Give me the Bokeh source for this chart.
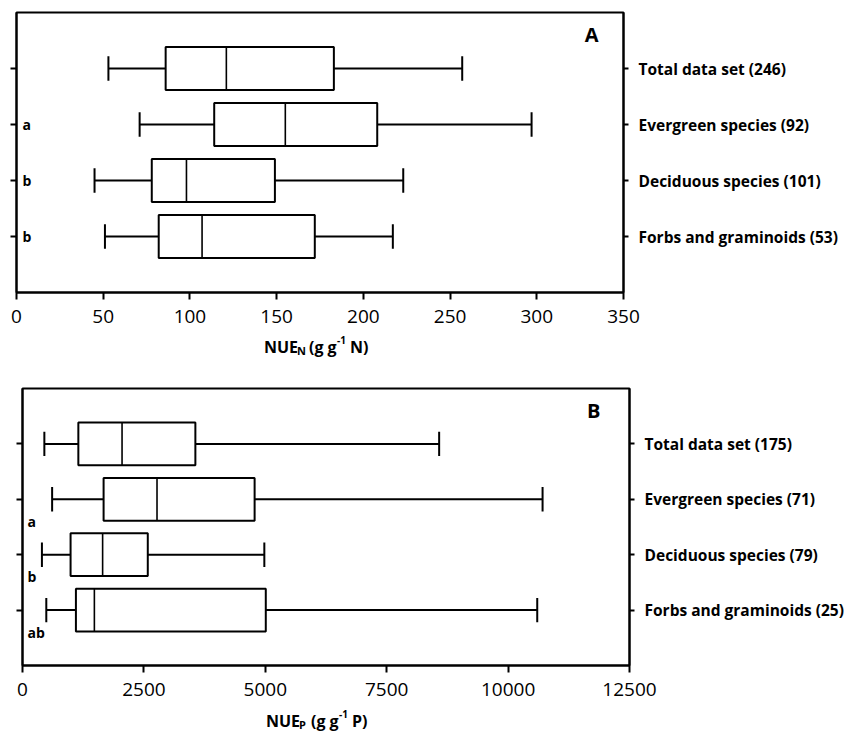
from bokeh.plotting import figure
from bokeh.models import Range1d, LinearAxis, FixedTicker, Label, ColumnDataSource
from bokeh.layouts import column
from bokeh.embed import file_html
from bokeh.resources import INLINE
from bokeh.core.properties import value

# ---------------- data ----------------
cats_n = ["Total data set (246)", "Evergreen species (92)", "Deciduous species (101)", "Forbs and graminoids (53)"]
n_low = [53, 71, 45, 51]
n_q1 = [86, 114, 78, 82]
n_med = [121, 155, 98, 107]
n_q3 = [183, 208, 149, 172]
n_high = [257, 297, 223, 217]
n_letters = ["", "a", "b", "b"]
n_ticks = [0, 50, 100, 150, 200, 250, 300, 350]

cats_p = ["Total data set (175)", "Evergreen species (71)", "Deciduous species (79)", "Forbs and graminoids (25)"]
p_low = [450, 610, 400, 490]
p_q1 = [1150, 1670, 990, 1100]
p_med = [2050, 2770, 1650, 1480]
p_q3 = [3560, 4780, 2580, 5010]
p_high = [8580, 10710, 4980, 10600]
p_letters = ["", "a", "b", "ab"]
p_ticks = [0, 2500, 5000, 7500, 10000, 12500]

FONT = "Open Sans"
W = 846
BOX_H = 0.77
CAP_H = 0.44


def panel(cats, low, q1, med, q3, high, letters, ticks, panel_tag,
          height, shift_left, mb_left, mb_right, mb_top, mb_bottom, letter_dx, letter_dy, tag_dx):
    pos = [len(cats) - i for i in range(len(cats))]
    p = figure(width=W, height=height,
               x_range=Range1d(ticks[0], ticks[-1]), y_range=Range1d(0, len(cats) + 1),
               output_backend="svg", toolbar_location=None, y_axis_location=None,
               min_border_left=mb_left, min_border_right=mb_right,
               min_border_top=mb_top, min_border_bottom=mb_bottom,
               margin=(0, 0, 0, -shift_left))
    p.grid.visible = False
    p.outline_line_color = "black"
    p.outline_line_width = 2
    p.background_fill_color = "white"
    p.border_fill_color = None

    xa = p.xaxis[0]
    xa.ticker = FixedTicker(ticks=ticks)
    xa.major_label_overrides = {t: str(t) for t in ticks}
    xa.major_label_text_font = FONT
    xa.major_label_text_font_size = "19px"
    xa.major_label_text_color = "black"
    xa.major_tick_out = 7
    xa.major_tick_in = 0
    xa.major_tick_line_width = 2
    xa.minor_tick_line_color = None
    xa.axis_line_width = 2
    xa.major_label_standoff = 10

    left = LinearAxis(ticker=FixedTicker(ticks=pos),
                      major_label_overrides={pv: "" for pv in pos},
                      major_label_text_color=None, major_label_text_font_size="1px",
                      major_tick_out=6, major_tick_in=0, major_tick_line_width=2,
                      minor_tick_line_color=None, axis_line_width=2, major_label_standoff=0)
    p.add_layout(left, "left")
    right = LinearAxis(ticker=FixedTicker(ticks=pos),
                       major_label_overrides={pv: c for pv, c in zip(pos, cats)},
                       major_label_text_font=FONT, major_label_text_font_style="bold",
                       major_label_text_font_size="15.5px", major_label_text_color="black",
                       major_tick_out=5, major_tick_in=0, major_tick_line_width=2,
                       minor_tick_line_color=None, axis_line_width=2, major_label_standoff=10)
    p.add_layout(right, "right")

    src = ColumnDataSource(dict(y=pos, low=low, q1=q1, med=med, q3=q3, high=high,
                                ylo=[v - BOX_H / 2 for v in pos], yhi=[v + BOX_H / 2 for v in pos],
                                clo=[v - CAP_H / 2 for v in pos], chi=[v + CAP_H / 2 for v in pos]))
    p.segment(x0="low", y0="y", x1="q1", y1="y", source=src, line_color="black", line_width=2)
    p.segment(x0="q3", y0="y", x1="high", y1="y", source=src, line_color="black", line_width=2)
    p.segment(x0="low", y0="clo", x1="low", y1="chi", source=src, line_color="black", line_width=2)
    p.segment(x0="high", y0="clo", x1="high", y1="chi", source=src, line_color="black", line_width=2)
    p.hbar(y="y", left="q1", right="q3", height=BOX_H, source=src,
           fill_color="white", line_color="black", line_width=2)
    p.segment(x0="med", y0="ylo", x1="med", y1="yhi", source=src, line_color="black", line_width=1.6)

    lt = [(pv, l) for pv, l in zip(pos, letters) if l]
    lsrc = ColumnDataSource(dict(x=[ticks[0]] * len(lt), y=[a for a, _ in lt], t=[b for _, b in lt]))
    p.text(x="x", y="y", text="t", source=lsrc, x_offset=letter_dx, y_offset=letter_dy,
           text_font=value(FONT), text_font_style="bold",
           text_font_size="14px", text_baseline="middle", text_align="left", text_color="black")

    p.add_layout(Label(x=ticks[-1], y=len(cats) + 1, x_offset=tag_dx, y_offset=-8,
                       text=panel_tag, text_font=FONT, text_font_style="bold",
                       text_font_size="20px", text_align="right", text_baseline="top",
                       text_color="black"))
    return p


def title_fig(main_fig, shift_left, sub, unit, height, shift_up, base, start_dx):
    t = figure(width=W, height=height, x_range=main_fig.x_range,
               y_range=Range1d(0, height),
               output_backend="svg", toolbar_location=None,
               x_axis_location=None, y_axis_location=None,
               min_border_left=main_fig.min_border_left, min_border_right=main_fig.min_border_right,
               min_border_top=0, min_border_bottom=0, margin=(-shift_up, 0, 0, -shift_left))
    t.grid.visible = False
    t.outline_line_color = None
    t.background_fill_color = None
    t.border_fill_color = None
    cx = (main_fig.x_range.start + main_fig.x_range.end) / 2
    pieces = [("NUE", 0, 0, "16px"), (sub, 33, 4, "11px"), ("(g g", 45, 0, "16px"),
              ("-1", 73, -7, "10px"), (unit + ")", 86, 0, "16px")]
    src = ColumnDataSource(dict(x=[cx] * len(pieces), y=[base] * len(pieces),
                                t=[a for a, _, _, _ in pieces],
                                dx=[start_dx + b for _, b, _, _ in pieces],
                                dy=[c for _, _, c, _ in pieces],
                                fs=[d for _, _, _, d in pieces]))
    t.text(x="x", y="y", text="t", x_offset="dx", y_offset="dy", text_font_size="fs",
           source=src, text_font=value(FONT), text_font_style="bold",
           text_align="left", text_baseline="alphabetic", text_color="black")
    return t


pa = panel(cats_n, n_low, n_q1, n_med, n_q3, n_high, n_letters, n_ticks, "A",
           344, 6, 22, 216, 12, 52, 6, 0, -25)
ta = title_fig(pa, 6, "N", "N", 38, 24, 12, -56)
pb = panel(cats_p, p_low, p_q1, p_med, p_q3, p_high, p_letters, p_ticks, "B",
           359, 0, 22, W - 629, 30, 52, 5, 22, -29)
tb = title_fig(pb, 0, "P", "P", 40, 24, 13, -60)

layout = column(pa, ta, pb, tb, spacing=0)
open("out.html", "w").write(file_html(layout, INLINE))
